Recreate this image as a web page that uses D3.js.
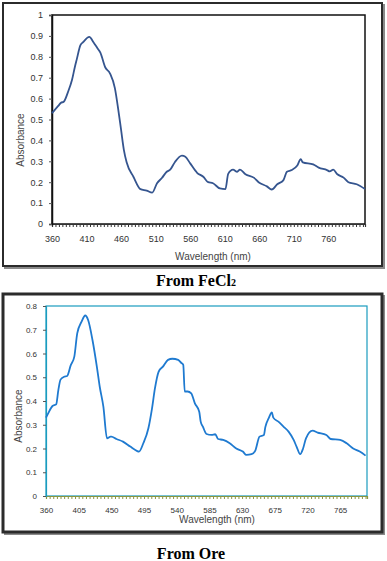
<!DOCTYPE html>
<html>
<head>
<meta charset="utf-8">
<script src="https://cdn.jsdelivr.net/npm/d3@7"></script>
<style>
  body { margin: 0; background: #fff; }
  svg { display: block; }
</style>
</head>
<body>
<div id="chart"></div>
<script>
// FeCl2 spectrum
const feWavelength = [360, 369, 373, 377, 383, 389, 393, 396, 401, 405, 414, 420, 426, 430, 437, 444, 451, 456, 460, 464, 468, 478, 488, 497, 505, 512, 519, 526, 531, 538, 548, 553, 560, 570, 579, 586, 593, 603, 611, 615, 622, 628, 632, 640, 652, 659, 671, 678, 686, 695, 700, 707, 715, 720, 723, 738, 746, 758, 762, 767, 773, 782, 789, 801, 813];
const feAbsorbance = [0.53, 0.565, 0.58, 0.585, 0.63, 0.69, 0.75, 0.79, 0.855, 0.87, 0.895, 0.87, 0.84, 0.82, 0.75, 0.72, 0.65, 0.545, 0.45, 0.355, 0.295, 0.225, 0.167, 0.16, 0.15, 0.195, 0.22, 0.25, 0.26, 0.297, 0.327, 0.322, 0.29, 0.245, 0.226, 0.2, 0.195, 0.17, 0.167, 0.24, 0.26, 0.25, 0.26, 0.238, 0.222, 0.2, 0.18, 0.165, 0.19, 0.21, 0.25, 0.258, 0.28, 0.31, 0.295, 0.285, 0.27, 0.258, 0.252, 0.26, 0.238, 0.222, 0.2, 0.19, 0.167];

// Ore spectrum
const oreWavelength = [360, 363, 369, 374, 377, 380, 385, 389, 394, 399, 403, 409, 414, 418, 424, 430, 434, 439, 444, 449, 450, 457, 466, 476, 485, 488, 494, 501, 506, 510, 515, 521, 528, 534, 542, 546, 549, 551, 555, 560, 565, 571, 573, 576, 581, 588, 593, 597, 604, 613, 622, 631, 636, 643, 648, 654, 660, 662, 667, 671, 673, 680, 687, 694, 701, 705, 710, 714, 718, 727, 734, 746, 752, 765, 774, 783, 792, 800];
const oreAbsorbance = [0.33, 0.348, 0.379, 0.386, 0.446, 0.49, 0.502, 0.505, 0.55, 0.587, 0.685, 0.734, 0.76, 0.741, 0.657, 0.545, 0.46, 0.376, 0.243, 0.25, 0.25, 0.24, 0.229, 0.208, 0.19, 0.187, 0.222, 0.285, 0.369, 0.453, 0.523, 0.545, 0.573, 0.578, 0.573, 0.561, 0.552, 0.44, 0.44, 0.432, 0.39, 0.355, 0.313, 0.292, 0.261, 0.257, 0.26, 0.24, 0.236, 0.222, 0.2, 0.187, 0.173, 0.176, 0.19, 0.25, 0.257, 0.29, 0.33, 0.352, 0.33, 0.313, 0.292, 0.271, 0.236, 0.208, 0.176, 0.2, 0.243, 0.275, 0.267, 0.257, 0.24, 0.236, 0.222, 0.2, 0.187, 0.17];

const feYTicks = [0, 0.1, 0.2, 0.3, 0.4, 0.5, 0.6, 0.7, 0.8, 0.9, 1];
const oreYTicks = [0, 0.1, 0.2, 0.3, 0.4, 0.5, 0.6, 0.7, 0.8];
const feXLabels = [360, 410, 460, 510, 560, 610, 660, 710, 760];
const oreXLabels = [360, 405, 450, 495, 540, 585, 630, 675, 720, 765];

const W = 387, H = 561;
const svg = d3.select("#chart").append("svg")
    .attr("width", W)
    .attr("height", H);

const tickFont = "'Liberation Sans', Arial, sans-serif";

function drawPanel(opt) {
    const g = svg.append("g");

    // outer frame with a drop shadow
    g.append("rect")
        .attr("x", opt.frame[0] + 2).attr("y", opt.frame[1] + 2)
        .attr("width", opt.frame[2] - opt.frame[0]).attr("height", opt.frame[3] - opt.frame[1])
        .attr("fill", "none").attr("stroke", "#8a8a8a").attr("stroke-width", 2);
    g.append("rect")
        .attr("x", opt.frame[0]).attr("y", opt.frame[1])
        .attr("width", opt.frame[2] - opt.frame[0]).attr("height", opt.frame[3] - opt.frame[1])
        .attr("fill", "#fff").attr("stroke", "#2b2b2b").attr("stroke-width", opt.frameWidth);

    const x = d3.scaleLinear().domain(opt.xDomain).range([opt.plot[0], opt.plot[2]]);
    const y = d3.scaleLinear().domain(opt.yDomain).range([opt.plot[3], opt.plot[1]]);

    // plot area border
    g.append("rect")
        .attr("x", opt.plot[0]).attr("y", opt.plot[1])
        .attr("width", opt.plot[2] - opt.plot[0]).attr("height", opt.plot[3] - opt.plot[1])
        .attr("fill", "none").attr("stroke", opt.plotStroke).attr("stroke-width", opt.plotStrokeWidth);

    // x axis: a tick for every 5 nm, labels at the listed values
    const xTicks = d3.range(opt.xDomain[0], opt.xDomain[1] + 0.1, 5);
    const xAxis = g.append("g")
        .attr("transform", "translate(0," + opt.plot[3] + ")")
        .call(d3.axisBottom(x)
            .tickValues(xTicks)
            .tickSize(3)
            .tickPadding(opt.xPad)
            .tickFormat(d => opt.xLabels.includes(d) ? d : ""));
    xAxis.select(".domain").attr("stroke", opt.xAxisColor).attr("stroke-width", 1.2);
    xAxis.selectAll(".tick line").attr("stroke", opt.xAxisColor);
    xAxis.selectAll("text")
        .attr("fill", "#333")
        .style("font-family", tickFont)
        .style("font-size", opt.tickSize + "px");

    // y axis
    const yAxis = g.append("g")
        .attr("transform", "translate(" + opt.plot[0] + ",0)")
        .call(d3.axisLeft(y)
            .tickValues(opt.yTicks)
            .tickSize(3)
            .tickPadding(opt.yPad)
            .tickFormat(d => d));
    yAxis.select(".domain").attr("stroke", opt.yAxisColor).attr("stroke-width", opt.plotStrokeWidth);
    yAxis.selectAll(".tick line").attr("stroke", "#555");
    yAxis.selectAll("text")
        .attr("fill", "#333")
        .style("font-family", tickFont)
        .style("font-size", opt.tickSize + "px");

    // the curve
    const line = d3.line()
        .x((d, i) => x(opt.wl[i]))
        .y(d => y(d))
        .curve(d3.curveMonotoneX);
    g.append("path")
        .datum(opt.abs)
        .attr("d", line)
        .attr("fill", "none")
        .attr("stroke", opt.lineColor)
        .attr("stroke-width", 1.8)
        .attr("stroke-linejoin", "round");

    // axis titles
    g.append("text")
        .attr("x", opt.xTitle[0]).attr("y", opt.xTitle[1])
        .attr("text-anchor", "middle")
        .attr("fill", "#444")
        .style("font-family", tickFont)
        .style("font-size", "10px")
        .text("Wavelength (nm)");
    g.append("text")
        .attr("transform", "translate(" + opt.yTitle[0] + "," + opt.yTitle[1] + ") rotate(-90)")
        .attr("text-anchor", "middle")
        .attr("fill", "#444")
        .style("font-family", tickFont)
        .style("font-size", "10px")
        .text("Absorbance");
}

drawPanel({
    frame: [3, 3, 382, 266], frameWidth: 2,
    plot: [52, 15, 365, 224],
    xDomain: [360, 813], yDomain: [0, 1],
    xLabels: feXLabels, yTicks: feYTicks,
    wl: feWavelength, abs: feAbsorbance,
    lineColor: "#35558f",
    plotStroke: "#111", plotStrokeWidth: 1.5,
    xAxisColor: "#333", yAxisColor: "#111",
    xPad: 9, yPad: 6, tickSize: 9,
    xTitle: [213, 260], yTitle: [24, 140]
});

drawPanel({
    frame: [3, 294, 382, 532], frameWidth: 3,
    plot: [46, 306, 367, 496],
    xDomain: [360, 802], yDomain: [0, 0.8],
    xLabels: oreXLabels, yTicks: oreYTicks,
    wl: oreWavelength, abs: oreAbsorbance,
    lineColor: "#1f7ad0",
    plotStroke: "#1a9cbf", plotStrokeWidth: 1.2,
    xAxisColor: "#8a9640", yAxisColor: "#1a9cbf",
    xPad: 8, yPad: 6, tickSize: 8,
    xTitle: [217, 523], yTitle: [22, 416]
});

// panel captions
svg.append("text")
    .attr("x", 196).attr("y", 286)
    .attr("text-anchor", "middle")
    .style("font-family", "'Liberation Serif', 'Times New Roman', serif")
    .style("font-weight", "bold")
    .style("font-size", "16px")
    .html("From FeCl<tspan font-size='10px'>2</tspan>");

svg.append("text")
    .attr("x", 191).attr("y", 559)
    .attr("text-anchor", "middle")
    .style("font-family", "'Liberation Serif', 'Times New Roman', serif")
    .style("font-weight", "bold")
    .style("font-size", "16px")
    .text("From Ore");
</script>
</body>
</html>
